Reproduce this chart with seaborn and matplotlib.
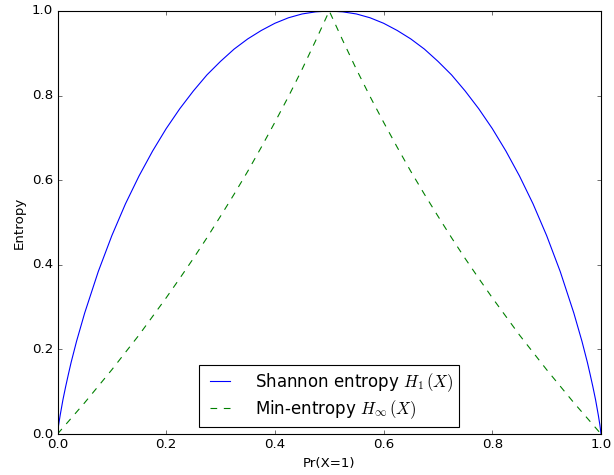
import numpy as np
import pandas as pd
import matplotlib
matplotlib.use("Agg")
import matplotlib.pyplot as plt
import seaborn as sns

# probability of X=1 and the two curves
p_vals = [0.0, 0.001, 0.002, 0.005, 0.01, 0.015, 0.02, 0.025, 0.035, 0.05, 0.075,
          0.1, 0.125, 0.15, 0.175, 0.2, 0.225, 0.25, 0.275, 0.3, 0.325, 0.35,
          0.375, 0.4, 0.425, 0.45, 0.475, 0.5, 0.525, 0.55, 0.575, 0.6, 0.625,
          0.65, 0.675, 0.7, 0.725, 0.75, 0.775, 0.8, 0.825, 0.85, 0.875, 0.9,
          0.925, 0.95, 0.965, 0.975, 0.98, 0.985, 0.99, 0.995, 0.998, 0.999, 1.0]
shannon = [0.0, 0.011, 0.021, 0.045, 0.081, 0.112, 0.141, 0.169, 0.219, 0.286, 0.384,
           0.469, 0.544, 0.610, 0.669, 0.722, 0.769, 0.811, 0.849, 0.881, 0.910, 0.934,
           0.954, 0.971, 0.984, 0.993, 0.998, 1.0, 0.998, 0.993, 0.984, 0.971, 0.954,
           0.934, 0.910, 0.881, 0.849, 0.811, 0.769, 0.722, 0.669, 0.610, 0.544, 0.469,
           0.384, 0.286, 0.219, 0.169, 0.141, 0.112, 0.081, 0.045, 0.021, 0.011, 0.0]
min_p = [0.0, 0.025, 0.05, 0.075, 0.1, 0.125, 0.15, 0.175, 0.2, 0.225, 0.25,
         0.275, 0.3, 0.325, 0.35, 0.375, 0.4, 0.425, 0.45, 0.475, 0.5,
         0.525, 0.55, 0.575, 0.6, 0.625, 0.65, 0.675, 0.7, 0.725, 0.75,
         0.775, 0.8, 0.825, 0.85, 0.875, 0.9, 0.925, 0.95, 0.975, 1.0]
min_ent = [0.0, 0.037, 0.074, 0.113, 0.152, 0.193, 0.234, 0.278, 0.322, 0.368, 0.415,
           0.464, 0.515, 0.567, 0.621, 0.678, 0.737, 0.798, 0.862, 0.930, 1.0,
           0.930, 0.862, 0.798, 0.737, 0.678, 0.621, 0.567, 0.515, 0.464, 0.415,
           0.368, 0.322, 0.278, 0.234, 0.193, 0.152, 0.113, 0.074, 0.037, 0.0]

sns.set_style("white")
plt.style.use("classic")
plt.rcParams["font.family"] = ["DejaVu Sans"]
plt.rcParams["mathtext.fontset"] = "cm"

fig = plt.figure(figsize=(614 / 80, 475 / 80), dpi=80, facecolor="white")
ax = fig.add_axes([57.5 / 614, 41 / 475, 543.5 / 614, 423 / 475])

df1 = pd.DataFrame({"p": p_vals, "h": shannon})
df2 = pd.DataFrame({"p": min_p, "h": min_ent})
sns.lineplot(data=df1, x="p", y="h", ax=ax, color="b", lw=1,
             label=r"Shannon entropy $H_1\,(X)$")
sns.lineplot(data=df2, x="p", y="h", ax=ax, color="g", lw=1, linestyle="--",
             label=r"Min-entropy $H_\infty\,(X)$")

ax.set_xlim(0, 1)
ax.set_ylim(0, 1)
ax.set_xticks(np.arange(0, 1.01, 0.2))
ax.set_yticks(np.arange(0, 1.01, 0.2))
ax.set_xlabel("Pr(X=1)", fontsize=12)
ax.set_ylabel("Entropy", fontsize=12)
ax.tick_params(direction="in", top=True, right=True, labelsize=12)
ax.legend(loc="lower center", fontsize=15, fancybox=False, frameon=True,
          edgecolor="black", handlelength=1.8, handletextpad=1.2,
          borderpad=0.35, labelspacing=0.25, borderaxespad=0.45)

fig.savefig("out.png", dpi=80, facecolor="white")
